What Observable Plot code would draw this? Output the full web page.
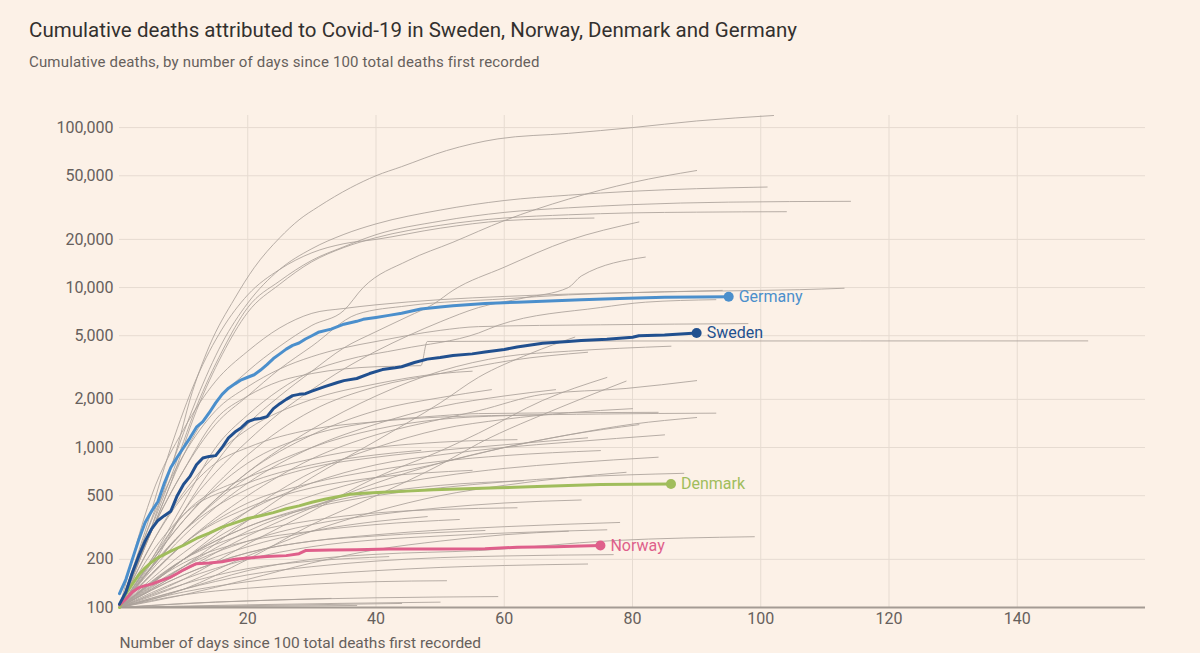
<!DOCTYPE html>
<html>
<head>
<meta charset="utf-8">
<script src="https://cdn.jsdelivr.net/npm/d3@7"></script>
<script src="https://cdn.jsdelivr.net/npm/@observablehq/plot@0.6"></script>
<style>
  html, body { margin: 0; padding: 0; background: #fcf1e7; }
  body { width: 1200px; height: 653px; overflow: hidden; font-family: Roboto, "Noto Sans", sans-serif; }
  #head { position: relative; height: 80px; }
  #title { position: absolute; left: 29px; top: 17px; font-size: 20.5px; line-height: 26px; color: #33302e; white-space: nowrap; }
  #sub { position: absolute; left: 29px; top: 51px; font-size: 15px; line-height: 22px; color: #66605c; white-space: nowrap; }
  #chart svg { display: block; }
</style>
</head>
<body>
<div id="head">
  <div id="title">Cumulative deaths attributed to Covid-19 in Sweden, Norway, Denmark and Germany</div>
  <div id="sub">Cumulative deaths, by number of days since 100 total deaths first recorded</div>
</div>
<div id="chart"></div>
<script>
// ---- tick values / labels ----
const xTicks = [20, 40, 60, 80, 100, 120, 140];
const yTicks = [100, 200, 500, 1000, 2000, 5000, 10000, 20000, 50000, 100000];
const xLabel = "Number of days since 100 total deaths first recorded";

// ---- highlighted countries: [day, cumulative deaths] ----
const highlightNames = ["Denmark", "Norway", "Sweden", "Germany"];
const highlightColors = ["#a0bd5c", "#df5f8b", "#21508f", "#4b8fcc"];

const denmark = [[0,100],[1,122],[2,140],[3,160],[4,177],[5,192],[6,205],[7,215],[8,225],[10,245],[12,270],[14,292],[16,318],[18,338],[20,360],[22,375],[24,392],[26,414],[28,432],[30,455],[32,475],[34,492],[36,510],[38,518],[41,525],[44,532],[49,545],[54,552],[59,560],[64,568],[70,578],[75,587],[80,590],[86,592]];
const norway = [[0,104],[1,113],[2,125],[3,133],[4,137],[5,140],[6,145],[7,150],[8,155],[9,163],[10,172],[11,180],[12,188],[14,190],[16,193],[18,200],[20,204],[23,208],[26,211],[28,217],[29,227],[33,229],[37,230],[42,232],[50,232],[57,233],[62,238],[68,240],[72,242],[75,244]];
const sweden = [[0,105],[1,125],[2,165],[3,210],[4,260],[5,310],[6,350],[7,375],[8,400],[9,500],[10,590],[11,660],[12,780],[13,860],[14,880],[15,890],[16,1000],[17,1150],[18,1250],[19,1330],[20,1450],[21,1500],[22,1520],[23,1560],[24,1750],[25,1880],[26,2000],[27,2110],[28,2150],[29,2170],[30,2250],[32,2400],[34,2550],[35,2620],[37,2700],[39,2900],[41,3070],[43,3150],[44,3200],[46,3400],[48,3570],[50,3650],[52,3760],[55,3850],[57,3950],[60,4100],[62,4250],[66,4480],[70,4600],[72,4660],[76,4750],[80,4890],[81,5000],[85,5060],[90,5200]];
const germany = [[0,122],[1,150],[2,200],[3,265],[4,340],[5,400],[6,460],[7,600],[8,750],[9,870],[10,1000],[11,1150],[12,1340],[13,1450],[14,1650],[15,1900],[16,2150],[17,2350],[18,2500],[19,2650],[20,2750],[21,2850],[22,3050],[23,3300],[24,3600],[25,3850],[26,4120],[27,4350],[28,4500],[29,4770],[30,5000],[31,5250],[33,5500],[35,5900],[37,6150],[38,6330],[40,6500],[42,6700],[44,6900],[47,7350],[50,7550],[52,7700],[57,7950],[62,8100],[66,8200],[72,8400],[78,8550],[85,8700],[90,8720],[95,8750]];
const highlightSeries = [denmark, norway, sweden, germany];

// ---- other countries (grey): [day, cumulative deaths] ----
const otherNames = ["US","UK","Italy","France","Spain","Brazil","Mexico","India","Iran","Belgium","Canada","Netherlands","China",
  "o1","o2","o3","o4","o5","o6","o7a","o7b","o8","o9","o10","o11","o12","o13","o14","o15","o16","o17","o18","o19","o20",
  "o21","o22","o23","o24","o25","o26","o27","o28","o29","o30","o31","o32","o33","o34","o35",
  "o36","o37","o38","o39","o40","o41","o42"];
const otherSeries = [
  [[0,100],[3,190],[6,420],[9,1000],[11,2000],[14,4300],[18,8600],[21,13300],[25,20500],[28,26500],[31,32000],[36,42000],[40,50000],[44,57000],[51,71800],[59,85000],[70,92000],[80,100000],[90,110000],[102,119000]],
  [[0,100],[4,280],[8,750],[12,2000],[16,4500],[20,8000],[25,13000],[30,17500],[35,21500],[40,25000],[50,30500],[60,35000],[70,37800],[80,40000],[90,41500],[101,42500]],
  [[0,100],[4,250],[8,650],[12,1800],[16,4000],[20,7500],[25,11000],[30,14800],[35,18000],[40,21400],[50,26000],[60,29500],[70,31500],[80,33000],[95,34200],[114,34600]],
  [[0,100],[4,240],[8,600],[12,1700],[16,3800],[20,7000],[25,10500],[30,14500],[35,17800],[40,20500],[50,24500],[60,27200],[70,28500],[80,29300],[90,29600],[104,29800]],
  [[0,100],[4,300],[8,1000],[12,2700],[16,5500],[20,9000],[25,13000],[30,16500],[35,18800],[40,20000],[50,23500],[60,26200],[66,26800],[74,27200]],
  [[0,100],[5,300],[10,900],[15,1900],[20,3000],[25,4300],[30,5800],[35,7200],[38,10000],[45,14750],[52,19200],[60,26200],[70,35700],[80,45400],[90,53900]],
  [[0,100],[5,180],[10,400],[15,800],[20,1400],[25,2100],[30,3000],[35,4200],[40,5300],[45,6600],[49,7900],[52,9600],[60,13400],[70,19700],[81,25700]],
  [[0,100],[5,190],[10,400],[15,700],[20,1100],[25,1650],[30,2300],[35,3100],[40,4000],[45,5000],[50,6100],[56,7500],[63,8600],[70,10000],[72,11800],[82,15500]],
  [[0,100],[5,300],[10,720],[15,1400],[20,2100],[25,3100],[30,4300],[37,6800],[45,7700],[60,8500],[70,9000],[80,9300],[100,9600],[106,9700],[113,9900]],
  [[0,100],[5,500],[10,1300],[15,2600],[20,4000],[25,5600],[30,6900],[35,7400],[40,7800],[50,8400],[60,8800],[70,9100],[80,9300],[94,9600]],
  [[0,100],[5,200],[10,450],[15,1000],[20,1600],[25,2300],[30,3000],[35,3500],[44,4130],[56,5200],[59,5800],[75,7500],[82,8100],[93,8400]],
  [[0,100],[5,350],[10,900],[15,1700],[20,2400],[25,3100],[30,3700],[35,4200],[40,4600],[50,5400],[56,5700],[75,5850],[98,5950]],
  [[0,100],[5,300],[10,720],[15,1500],[20,2100],[25,2600],[30,2900],[35,3100],[40,3200],[47,3250],[48,4600],[80,4634],[151,4640]],
  [[0,100],[10,300],[20,700],[30,1300],[40,2100],[50,3000],[60,3700],[70,4000],[86,4300]],
  [[0,100],[10,180],[20,350],[30,650],[40,1100],[50,1900],[56,2750],[64,3860],[71,4900]],
  [[0,100],[10,350],[20,900],[30,1700],[40,2400],[50,2900],[56,3230],[61,3500],[73,3940]],
  [[0,100],[10,250],[20,500],[30,850],[40,1200],[50,1500],[56,1700],[66,2150],[79,2340],[90,2620]],
  [[0,100],[10,150],[20,250],[30,400],[40,650],[50,950],[56,1230],[66,1970],[76,2740]],
  [[0,100],[10,130],[20,200],[30,330],[40,500],[50,780],[56,1060],[69,1800],[79,2600]],
  [[0,100],[10,350],[20,800],[30,1200],[40,1450],[50,1580],[56,1630],[84,1660]],
  [[0,100],[10,300],[20,650],[30,1000],[40,1300],[50,1500],[60,1580],[75,1620],[93,1640]],
  [[0,100],[10,200],[20,350],[30,500],[40,650],[50,800],[60,1000],[70,1200],[80,1400],[90,1540]],
  [[0,100],[10,170],[20,280],[30,420],[40,600],[50,800],[60,1000],[70,1200],[81,1390]],
  [[0,100],[10,220],[20,400],[30,600],[40,780],[50,900],[60,1000],[70,1080],[85,1200]],
  [[0,100],[10,300],[20,550],[30,750],[40,870],[50,960],[60,1040],[73,1150]],
  [[0,100],[10,250],[20,450],[30,600],[40,720],[50,820],[60,890],[75,957]],
  [[0,100],[10,180],[20,300],[30,430],[40,560],[50,660],[60,740],[70,800],[84,870]],
  [[0,100],[10,200],[20,320],[30,420],[40,500],[50,560],[60,610],[70,650],[88,690]],
  [[0,100],[10,140],[20,210],[30,300],[40,400],[50,500],[60,580],[70,650],[79,700]],
  [[0,100],[10,160],[20,220],[30,260],[40,285],[50,305],[60,320],[78,340]],
  [[0,100],[10,150],[20,200],[30,240],[40,265],[50,280],[60,292],[76,306]],
  [[0,100],[10,130],[20,170],[30,200],[40,215],[56,227],[77,262],[99,277]],
  [[0,100],[10,130],[20,160],[30,180],[40,195],[50,205],[60,210],[77,214]],
  [[0,100],[10,125],[20,145],[30,160],[40,170],[50,178],[60,183],[73,187]],
  [[0,100],[10,120],[20,132],[30,140],[40,145],[51,147]],
  [[0,100],[10,106],[20,110],[30,113],[40,115],[59,117]],
  [[0,100],[20,104],[50,108]],
  [[0,100],[37,103]],
  [[0,100],[10,190],[20,260],[30,300],[40,330],[53,355]],
  [[0,100],[10,160],[20,220],[30,260],[40,280],[57,303]],
  [[0,100],[10,140],[20,175],[30,195],[42,208]],
  [[0,100],[10,300],[20,700],[30,1200],[40,1700],[50,2050],[58,2300]],
  [[0,100],[44,106]],
  [[0,100],[15,108],[33,114]],
  [[0,100],[5,250],[10,500],[15,800],[20,1000],[30,1300],[40,1450],[50,1550],[66,1600]],
  [[0,100],[5,200],[10,380],[20,650],[30,850],[40,1000],[50,1080],[62,1120]],
  [[0,100],[5,160],[10,250],[20,420],[30,560],[40,650],[55,720]],
  [[0,100],[5,140],[10,200],[20,320],[30,430],[40,520],[50,580],[63,620]],
  [[0,100],[5,130],[10,170],[20,240],[30,300],[40,345],[48,370]],
  [[0,100],[10,280],[20,600],[30,1000],[40,1400],[50,1800],[60,2100],[68,2300]],
  [[0,100],[8,400],[15,900],[20,1300],[30,2000],[40,2500],[50,2900],[55,3000]],
  [[0,100],[10,200],[20,400],[30,700],[40,1000],[50,1300],[60,1500],[70,1650],[80,1750]],
  [[0,100],[10,180],[20,260],[30,330],[40,380],[50,420],[60,450],[72,470]],
  [[0,100],[10,200],[20,290],[30,350],[40,390],[50,410],[62,420]],
  [[0,100],[5,220],[10,380],[20,600],[30,780],[40,900],[47,960]],
  [[0,100],[10,120],[20,150],[30,190],[40,230],[50,260],[60,285],[70,300]]
];

// ---- build tables for the library ----
const greyRows = otherSeries.flatMap((s, i) => s.map(([day, value]) => ({name: otherNames[i], day, value})));
const fmt = d3.format(",");
const gridColor = "#e6dbd1";
const textColor = "#66605c";

const highlightMarks = highlightSeries.flatMap((s, i) => {
  const rows = s.map(([day, value]) => ({name: highlightNames[i], day, value}));
  const last = [rows[rows.length - 1]];
  return [
    Plot.line(rows, {x: "day", y: "value", stroke: highlightColors[i], strokeWidth: 3, strokeLinejoin: "round"}),
    Plot.dot(last, {x: "day", y: "value", r: 5, fill: highlightColors[i], stroke: "none"}),
    Plot.text(last, {x: "day", y: "value", text: "name", dx: 10, textAnchor: "start", fill: highlightColors[i], fontSize: 16})
  ];
});

const chart = Plot.plot({
  width: 1200,
  height: 573,
  marginTop: 35,
  marginRight: 55,
  marginBottom: 46,
  marginLeft: 119,
  style: {background: "transparent", fontFamily: "Roboto, 'Noto Sans', sans-serif", fontSize: "16px", color: textColor, overflow: "visible"},
  x: {domain: [0, 160], label: null},
  y: {type: "log", domain: [100, 119000], label: null},
  marks: [
    Plot.gridY(yTicks.filter(v => v > 100), {stroke: gridColor, strokeOpacity: 1, strokeWidth: 1}),
    Plot.gridX(xTicks, {stroke: gridColor, strokeOpacity: 1, strokeWidth: 1}),
    Plot.axisY(yTicks, {tickSize: 0, tickPadding: 6, tickFormat: fmt, fill: textColor, fontSize: 16, label: null}),
    Plot.axisX(xTicks, {tickSize: 0, tickPadding: 5, fill: textColor, fontSize: 16, label: null}),
    Plot.line(greyRows, {x: "day", y: "value", z: "name", stroke: "#aaa19a", strokeOpacity: 0.85, strokeWidth: 1, curve: "monotone-x"}),
    Plot.ruleY([100], {stroke: "#a49b94", strokeWidth: 2}),
    ...highlightMarks,
    Plot.text([xLabel], {frameAnchor: "bottom-left", dy: 40, textAnchor: "start", fill: textColor, fontSize: 15.5})
  ]
});
document.getElementById("chart").appendChild(chart);

// fit heading widths to the reference layout with letter spacing
function fit(id, target) {
  const el = document.getElementById(id);
  const w = el.getBoundingClientRect().width;
  const n = el.textContent.length;
  el.style.letterSpacing = ((target - w) / n) + "px";
}
fit("title", 768);
fit("sub", 510);
</script>
</body>
</html>
